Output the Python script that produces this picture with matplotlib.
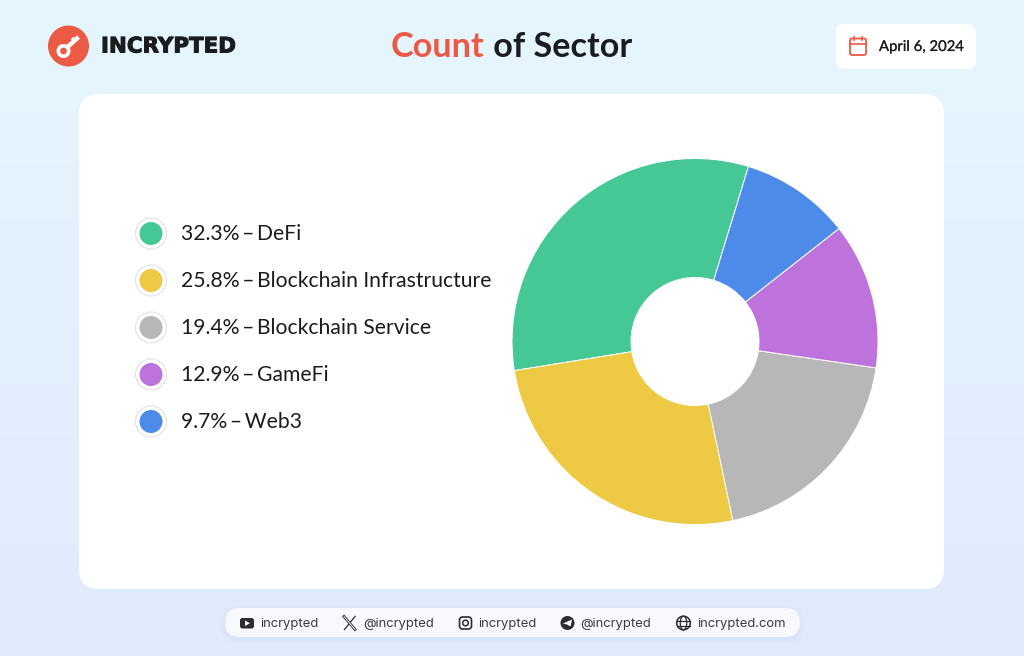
import numpy as np
import matplotlib
matplotlib.use("Agg")
import matplotlib.pyplot as plt
import matplotlib.patheffects as pe
from matplotlib.patches import FancyBboxPatch, Circle, Polygon, Ellipse

# data
sectors = ["DeFi", "Blockchain Infrastructure", "Blockchain Service", "GameFi", "Web3"]
shares = [32.3, 25.8, 19.4, 12.9, 9.7]
colors = ["#46C896", "#EDC944", "#B7B7B7", "#BD72DC", "#4C8BEA"]

title_red = "Count"
title_dark = " of Sector"
brand = "INCRYPTED"
date_text = "April 6, 2024"
social_labels = ["incrypted", "@incrypted", "incrypted", "@incrypted", "incrypted.com"]

RED = "#EA5A45"
DARK = "#1A1C20"
FONT = "Lato"

plt.rcParams["font.family"] = [FONT, "DejaVu Sans"]

fig = plt.figure(figsize=(10.24, 6.56), dpi=100)

# whole figure axes in pixel coords, y pointing down
bg = fig.add_axes([0, 0, 1, 1])
bg.set_xlim(0, 1024)
bg.set_ylim(656, 0)
bg.axis("off")

grad = np.linspace(0, 1, 256).reshape(-1, 1)
top = np.array([0xE6, 0xF6, 0xFE]) / 255
bot = np.array([0xE0, 0xEA, 0xFD]) / 255
img = top + (bot - top) * grad[..., None]
bg.imshow(img, extent=(0, 1024, 656, 0), aspect="auto", zorder=0)


def round_box(x0, y0, x1, y1, r, color="white", **kw):
    p = FancyBboxPatch((x0 + r, y0 + r), x1 - x0 - 2 * r, y1 - y0 - 2 * r,
                       boxstyle=f"round,pad={r},rounding_size={r}",
                       fc=color, ec="none", **kw)
    bg.add_patch(p)
    return p


# main card + date card
round_box(79, 94, 944, 589, 20, zorder=1)
round_box(836, 24, 976, 69, 8, zorder=1)

# logo
bg.add_patch(Circle((68.5, 46), 20.5, fc=RED, ec="none", zorder=2))
bg.add_patch(Circle((63.5, 51), 5.2, fc="none", ec="white", lw=2.6, zorder=3))
bg.plot([67.5, 78.5], [47, 37], color="white", lw=3.2, solid_capstyle="butt", zorder=3)
bg.plot([72, 75.5], [38, 41.5], color="white", lw=2.6, solid_capstyle="butt", zorder=3)
bg.text(101, 46.5, brand, fontsize=15.4, fontweight="bold", color=DARK, family="DejaVu Sans",
        va="center", ha="left", zorder=3,
        path_effects=[pe.withStroke(linewidth=0.7, foreground=DARK)])

# title
t1 = bg.text(391, 47, title_red, fontsize=24.6, fontweight="bold", color=RED,
             va="center", ha="left", zorder=3)
fig.canvas.draw()
ext = t1.get_window_extent()
bg.text(ext.x1, 47, title_dark, fontsize=24.6, fontweight="bold", color=DARK,
        va="center", ha="left", zorder=3)

# date
bg.add_patch(FancyBboxPatch((850, 38.5), 16, 16.5, boxstyle="round,pad=0,rounding_size=2",
                            fc="none", ec=RED, lw=1.3, zorder=3))
bg.plot([850, 866], [43.5, 43.5], color=RED, lw=1.2, zorder=3)
bg.plot([854, 854], [36.5, 40], color=RED, lw=1.2, zorder=3)
bg.plot([862, 862], [36.5, 40], color=RED, lw=1.2, zorder=3)
bg.text(879, 47, date_text, fontsize=10.7, color=DARK,
        va="center", ha="left", zorder=3,
        path_effects=[pe.withStroke(linewidth=0.12, foreground=DARK)])

# legend
ys = [233.5, 280.5, 327.5, 374.5, 421.5]
for y, name, val, c in zip(ys, sectors, shares, colors):
    bg.add_patch(Circle((151, y), 15.5, fc="white", ec="#E2E2E2", lw=0.8, zorder=2))
    bg.add_patch(Circle((151, y), 11.5, fc=c, ec="none", zorder=3))
    bg.text(181, y + 0.5, f"{val}%\u2009–\u2009{name}", fontsize=15.25, color=DARK,
            va="center", ha="left", zorder=3)

# donut
cx, cy, r = 695, 341.5, 183
ax = fig.add_axes([(cx - r) / 1024, 1 - (cy + r) / 656, 2 * r / 1024, 2 * r / 656])
ax.pie(shares, colors=colors, startangle=73, counterclock=True, radius=1,
       wedgeprops=dict(width=119 / 183, edgecolor="white", linewidth=0.7))
ax.set_xlim(-1, 1)
ax.set_ylim(-1, 1)
ax.patch.set_alpha(0)

# footer pill with soft shadow
for i, a in zip([5, 3, 1.5], [0.02, 0.025, 0.03]):
    round_box(225 - i, 608 - i + 2, 800 + i, 637 + i + 2, 14.5 + i, color="#7A96C8", alpha=a, zorder=1)
round_box(225, 608, 800, 637, 14.5, color="#F7F9FE", zorder=2)

ICON = "#2B2D33"
TXT = "#3A3C42"
text_x = [260.5, 363, 478.5, 580.5, 697]
for x, lab in zip(text_x, social_labels):
    bg.text(x, 623.8, lab, fontsize=9.4, color=TXT, family="Inter", va="center", ha="left", zorder=4)

# youtube
bg.add_patch(FancyBboxPatch((240, 618), 14, 10.5, boxstyle="round,pad=0,rounding_size=2.5",
                            fc=ICON, ec="none", zorder=4))
bg.add_patch(Polygon([[245, 620.5], [245, 626], [250, 623.2]], fc="white", ec="none", zorder=5))
# x
bg.plot([344, 355], [616.5, 629.5], color=ICON, lw=2, zorder=4)
bg.plot([344, 355], [616.5, 629.5], color="#F7F9FE", lw=0.7, zorder=5)
bg.plot([355, 344.5], [616.5, 629.5], color=ICON, lw=0.9, zorder=4)
# instagram
bg.add_patch(FancyBboxPatch((459.5, 617), 12, 12, boxstyle="round,pad=0,rounding_size=3",
                            fc="none", ec=ICON, lw=1.2, zorder=4))
bg.add_patch(Circle((465.5, 623), 2.8, fc="none", ec=ICON, lw=1.1, zorder=4))
# telegram
bg.add_patch(Circle((567.5, 623), 7, fc=ICON, ec="none", zorder=4))
bg.add_patch(Polygon([[563, 623.5], [572, 619.5], [570.5, 626.5], [567, 624.5]],
                     fc="white", ec="none", zorder=5))
# globe
bg.add_patch(Circle((683.5, 623), 6.8, fc="none", ec=ICON, lw=1.1, zorder=4))
bg.add_patch(Ellipse((683.5, 623), 6.5, 13.6, fc="none", ec=ICON, lw=0.9, zorder=4))
bg.plot([677, 690], [620.5, 620.5], color=ICON, lw=0.9, zorder=4)
bg.plot([677, 690], [625.5, 625.5], color=ICON, lw=0.9, zorder=4)

fig.savefig("out.png", dpi=100)
